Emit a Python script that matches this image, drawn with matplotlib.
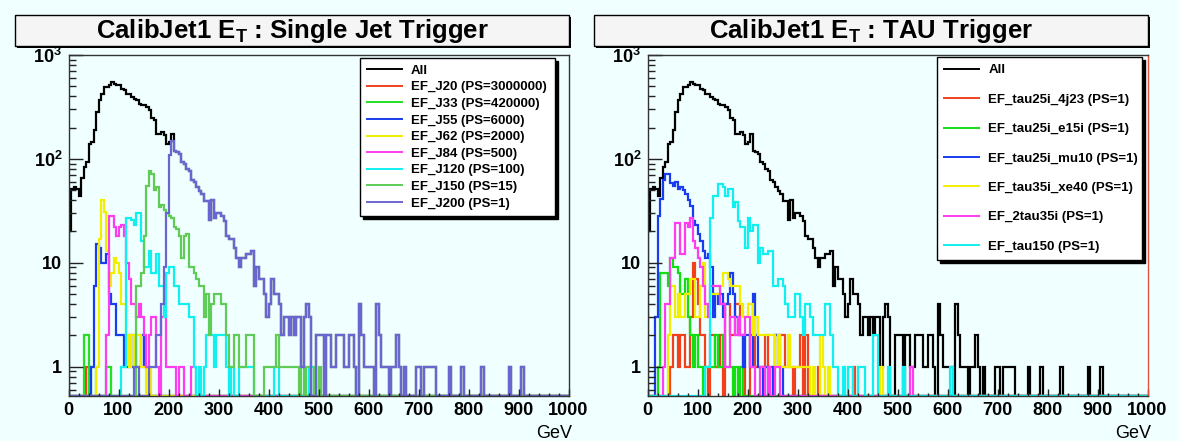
import numpy as np
import matplotlib
matplotlib.use("Agg")
import matplotlib.pyplot as plt
from matplotlib.patches import Rectangle
from matplotlib.lines import Line2D
from matplotlib.ticker import FixedLocator, MultipleLocator, NullFormatter, FixedFormatter, LogLocator

plt.rcParams['font.family'] = ['Liberation Sans', 'DejaVu Sans']
plt.rcParams['mathtext.fontset'] = 'custom'
plt.rcParams['mathtext.rm'] = 'Liberation Sans:bold'
plt.rcParams['mathtext.it'] = 'Liberation Sans:bold'
plt.rcParams['mathtext.bf'] = 'Liberation Sans:bold'

# ---------------- data (counts per 5 GeV bin, 0..1000 GeV) ----------------
bin_edges_gev = list(range(0, 1005, 5))

all_events = [
    20, 51, 53, 51, 44, 66, 83, 93, 139, 145,
    188, 282, 366, 425, 490, 490, 510, 550, 530, 510,
    510, 470, 460, 425, 425, 395, 380, 366, 340, 330,
    330, 315, 295, 245, 235, 175, 175, 180, 168, 139,
    145, 175, 120, 116, 111, 93, 89, 80, 77, 62,
    60, 53, 49, 46, 39, 39, 26, 40, 27, 30,
    30, 28, 25, 18, 17, 17, 14, 11, 9, 11,
    11, 12, 12, 13, 6, 9, 7, 7, 5, 3,
    4, 7, 5, 5, 4, 2, 3, 3, 2, 3,
    2, 3, 3, 1, 3, 4, 3, 0, 0, 2,
    2, 2, 0, 2, 2, 1, 1, 2, 2, 2,
    1, 1, 2, 2, 1, 0, 4, 2, 1, 1,
    1, 1, 0, 4, 2, 1, 1, 1, 0, 1,
    1, 2, 1, 0, 1, 0, 0, 0, 0, 1,
    1, 0, 1, 1, 1, 1, 1, 0, 0, 0,
    0, 0, 1, 0, 0, 0, 0, 1, 0, 0,
    0, 0, 0, 0, 0, 1, 0, 0, 0, 0,
    0, 0, 0, 0, 0, 0, 1, 0, 0, 0,
    0, 1]

# --- single jet triggers (left) ---
ef_j20 = [0, 0, 0, 0, 0, 0, 0, 1]
ef_j33 = [0, 0, 0, 0, 0, 0, 2, 2, 0, 1,
          1, 0, 0, 0, 0, 1, 1]
ef_j55 = [0, 0, 0, 0, 0, 0, 0, 0, 0, 1,
          6, 15, 14, 10, 10, 12, 5, 4, 4, 2,
          2, 2, 1, 1, 2, 1, 2, 1, 1, 2,
          1, 1]
ef_j62 = [0, 0, 0, 0, 0, 0, 0, 0, 0, 0,
          0, 1, 17, 40, 31, 13, 6, 8, 11, 10,
          8, 4, 4, 2, 1, 2, 1, 2, 2, 1,
          1, 0, 1]
ef_j84 = [0, 0, 0, 0, 0, 0, 0, 0, 0, 0,
          0, 0, 0, 0, 0, 2, 28, 28, 22, 18,
          22, 23, 18, 10, 7, 4, 4, 3, 4, 3,
          2, 1, 2, 3, 3, 1, 0, 3, 3, 1,
          1, 1, 1, 0, 1, 1, 0, 0, 0, 1,
          1]
ef_j120 = [0, 0, 0, 0, 0, 0, 0, 0, 0, 0,
           0, 0, 0, 0, 0, 0, 0, 0, 0, 0,
           0, 1, 1, 27, 27, 26, 23, 30, 30, 16,
           9, 9, 13, 8, 8, 12, 6, 6, 3, 8,
           9, 9, 6, 6, 4, 4, 4, 4, 3, 3,
           1, 0, 1, 0, 1, 2, 2, 2, 1, 2,
           2, 2, 2, 1, 0, 1, 0, 0, 1, 1,
           1, 1, 1, 1, 0, 0, 0, 0, 0, 0,
           0, 0, 1, 1, 0, 0, 0, 0, 0, 0,
           0, 0, 0, 0, 0, 0, 1, 1]
ef_j150 = [0, 0, 0, 0, 0, 0, 0, 0, 0, 0,
           0, 0, 0, 0, 0, 0, 0, 0, 0, 0,
           0, 0, 0, 0, 0, 0, 0, 6, 6, 8,
           18, 55, 77, 72, 50, 53, 34, 36, 32, 30,
           28, 27, 22, 21, 18, 11, 18, 19, 9, 9,
           8, 7, 6, 6, 3, 5, 2, 4, 5, 5,
           5, 4, 4, 2, 1, 1, 2, 2, 1, 1,
           1, 2, 2, 2, 0, 0, 0, 0, 1, 1,
           1, 1, 1, 2, 1, 1, 1, 1, 1, 1,
           1, 1, 0, 1, 0, 1, 1, 0, 1, 0,
           1, 0, 0, 0, 0, 0, 0, 0, 0, 0,
           0, 0, 0, 0, 0, 1]
ef_j200 = [0, 0, 0, 0, 0, 0, 0, 0, 0, 0,
           0, 0, 0, 0, 0, 0, 0, 0, 0, 0,
           0, 0, 0, 0, 0, 0, 1, 1, 0, 0,
           0, 0, 1, 1, 1, 2, 2, 4, 9, 30,
           110, 150, 120, 116, 111, 93, 89, 80, 77, 62,
           60, 53, 49, 46, 39, 39, 26, 40, 27, 30,
           30, 28, 25, 18, 17, 17, 14, 11, 9, 11,
           11, 12, 12, 13, 6, 9, 7, 7, 5, 3,
           4, 7, 5, 5, 4, 2, 3, 3, 2, 3,
           2, 3, 3, 1, 3, 4, 3, 0, 0, 2,
           2, 2, 0, 2, 2, 1, 1, 2, 2, 2,
           1, 1, 2, 2, 1, 0, 4, 2, 1, 1,
           1, 1, 0, 4, 2, 1, 1, 1, 0, 1,
           1, 2, 1, 0, 1, 0, 0, 0, 0, 1,
           1, 0, 1, 1, 1, 1, 1, 0, 0, 0,
           0, 0, 1, 0, 0, 0, 0, 1, 0, 0,
           0, 0, 0, 0, 0, 1, 0, 0, 0, 0,
           0, 0, 0, 0, 0, 0, 1, 0, 0, 0,
           0, 1]

# --- tau triggers (right) ---
ef_tau25i_4j23 = [0, 0, 0, 0, 0, 0, 0, 0, 0, 1,
                  2, 2, 1, 2, 2, 1, 1, 3, 10, 7,
                  4, 2, 2, 1, 0, 2, 2, 1, 1, 2,
                  0, 4, 4, 2, 2, 4, 4, 2, 1, 0,
                  0, 2, 2, 1, 1, 1, 1, 2, 1, 1,
                  1, 2, 2, 2, 2, 1, 1, 1, 0, 1,
                  1, 2, 0, 2, 0, 0, 0, 0, 1, 0,
                  0, 0, 0, 0, 0, 0, 0, 0, 0, 0,
                  0, 0, 1]
ef_tau25i_e15i = [0, 0, 0, 0, 1, 8, 8, 8, 6, 11,
                  9, 9, 8, 5, 5, 7, 3, 2, 1, 2,
                  1, 1, 0, 1, 1, 1, 1, 2, 1, 1,
                  2, 1, 1, 1, 0, 1, 0, 1]
ef_tau25i_mu10 = [0, 0, 0, 3, 28, 41, 62, 71, 72, 58,
                  55, 60, 51, 53, 50, 46, 40, 35, 25, 23,
                  19, 16, 13, 11, 12, 9, 3, 5, 4, 5,
                  3, 4, 5, 8, 5, 3, 2, 2, 1, 2,
                  2, 1, 5, 2, 1, 1, 0, 1, 1, 0,
                  1, 2, 2, 1]
ef_tau35i_xe40 = [0, 0, 0, 0, 0, 0, 0, 0, 2, 6,
                  6, 3, 5, 3, 3, 5, 5, 7, 7, 3,
                  3, 6, 10, 3, 3, 5, 5, 5, 5, 6,
                  8, 8, 7, 6, 6, 6, 6, 4, 3, 3,
                  4, 4, 2, 3, 2, 2, 2, 2, 2, 2,
                  2, 1, 2, 1, 1, 1, 2, 1, 1, 1,
                  1, 1, 1, 1, 1, 0, 1, 0, 0, 2,
                  1, 0, 1, 0, 0, 0, 0, 0, 0, 0,
                  0, 0, 0, 0, 0, 0, 0, 0, 0, 0,
                  0, 0, 0, 1]
ef_2tau35i = [0, 0, 0, 0, 0, 0, 1, 4, 4, 11,
              11, 24, 24, 12, 12, 24, 22, 27, 16, 14,
              11, 9, 6, 4, 3, 6, 6, 6, 6, 4,
              4, 1, 1, 3, 3, 2, 3, 2, 2, 3,
              3, 1, 1, 0, 0, 1, 1, 0, 1, 0,
              0, 1, 1, 0, 0, 0, 0, 0, 0, 0,
              0, 0, 0, 0, 0, 0, 0, 0, 0, 0,
              0, 0, 0, 0, 0, 0, 0, 0, 0, 0,
              0, 0, 0, 0, 0, 0, 0, 0, 0, 0,
              0, 0, 0, 0, 0, 0, 0, 0, 0, 0,
              0, 0, 0, 0, 0, 1]
ef_tau150 = [0, 0, 0, 0, 0, 0, 0, 0, 0, 0,
             0, 0, 0, 0, 0, 0, 0, 0, 0, 0,
             0, 0, 0, 1, 1, 27, 44, 44, 57, 57,
             53, 44, 51, 51, 34, 38, 25, 22, 22, 14,
             27, 20, 23, 23, 10, 14, 12, 12, 13, 13,
             6, 6, 7, 7, 6, 4, 3, 3, 3, 5,
             5, 3, 2, 4, 4, 3, 2, 2, 2, 2,
             2, 4, 4, 2, 1, 1, 0, 0, 1, 0,
             1, 1, 0, 0, 1, 1, 1, 0, 0, 0,
             2, 2, 0, 0, 0, 0, 1, 0, 0, 0,
             0, 0, 1, 0, 0, 0, 0, 0, 0, 0,
             0, 0, 0, 0, 0, 0, 0, 0, 0, 0,
             0, 1]

left_labels = ["All", "EF_J20 (PS=3000000)", "EF_J33 (PS=420000)", "EF_J55 (PS=6000)",
               "EF_J62 (PS=2000)", "EF_J84 (PS=500)", "EF_J120 (PS=100)",
               "EF_J150 (PS=15)", "EF_J200 (PS=1)"]
right_labels = ["All", "EF_tau25i_4j23 (PS=1)", "EF_tau25i_e15i (PS=1)",
                "EF_tau25i_mu10 (PS=1)", "EF_tau35i_xe40 (PS=1)",
                "EF_2tau35i (PS=1)", "EF_tau150 (PS=1)"]
x_tick_values = [0, 100, 200, 300, 400, 500, 600, 700, 800, 900, 1000]
x_tick_labels = ["0", "100", "200", "300", "400", "500", "600", "700", "800", "900", "1000"]
y_tick_values = [1, 10, 100, 1000]
y_tick_labels = ["1", "10", "10$^{2}$", "10$^{3}$"]

# ---------------- style ----------------
W, H = 1179, 441
BG = '#f0ffff'
YMIN, YMAX = 0.526, 1000.0
left_colors = ['black', '#f2401c', '#22e022', '#1a3cf0', '#f2ee00', '#ff3cf0',
               '#10f0f0', '#5fcc58', '#6a66d0']
right_colors = ['black', '#f2401c', '#10e010', '#1a3cf0', '#f2ee00', '#ff3cf0', '#10f0f0']

fig = plt.figure(figsize=(W / 100, H / 100), dpi=100, facecolor=BG)


def fx(px):
    return px / W


def fy(py):
    return 1 - py / H


def prep(v):
    a = np.zeros(len(bin_edges_gev) - 1)
    a[:len(v)] = v
    return np.where(a > 0, a, YMIN)


def make_axes(left_px, series, colors, labels, title, leg_box, leg_spacing, leg_pad):
    ax = fig.add_axes([fx(left_px), fy(395.5), fx(500), (395.5 - 55) / H], facecolor=BG)
    ax.set_yscale('log')
    for vals, col in zip(series, colors):
        ax.stairs(prep(vals), bin_edges_gev, baseline=YMIN, color=col, lw=1.6)
    ax.set_xlim(0, 1000)
    ax.set_ylim(YMIN, YMAX)
    ax.xaxis.set_major_locator(FixedLocator(x_tick_values))
    ax.xaxis.set_major_formatter(FixedFormatter(x_tick_labels))
    ax.xaxis.set_minor_locator(MultipleLocator(20))
    ax.yaxis.set_major_locator(FixedLocator(y_tick_values))
    ax.yaxis.set_major_formatter(FixedFormatter(y_tick_labels))
    ax.yaxis.set_minor_locator(LogLocator(base=10, subs=np.arange(2, 10)))
    ax.yaxis.set_minor_formatter(NullFormatter())
    ax.tick_params(axis='both', which='both', direction='in', top=False, right=False,
                   color='#222222', width=1.0)
    ax.tick_params(axis='x', which='major', length=5, pad=4.5, labelsize=13)
    ax.tick_params(axis='x', which='minor', length=2.5)
    ax.tick_params(axis='y', which='major', length=10, pad=4.5, labelsize=13)
    ax.tick_params(axis='y', which='minor', length=5)
    for lab in ax.get_xticklabels() + ax.get_yticklabels():
        lab.set_fontweight('bold')
    for sp in ax.spines.values():
        sp.set_color('#333333')
        sp.set_linewidth(1.0)

    handles = [Line2D([], [], color=c, lw=1.4) for c in colors]
    x0, y0, x1, y1 = leg_box
    leg = ax.legend(handles, labels, loc='upper left',
                    bbox_to_anchor=(fx(x0), fy(y1), fx(x1 - x0), (y1 - y0) / H),
                    bbox_transform=fig.transFigure, mode='expand',
                    prop={'weight': 'bold', 'size': 9.5}, fancybox=False,
                    shadow={'ox': 2.3, 'oy': -2.3, 'color': 'black', 'alpha': 1.0},
                    framealpha=1, facecolor='white', edgecolor='black',
                    borderpad=leg_pad, labelspacing=leg_spacing, handlelength=2.65,
                    handletextpad=0.7, borderaxespad=0)
    leg.get_frame().set_linewidth(1.0)

    # title box with shadow
    tx0, tx1 = left_px - 53.5, left_px + 500.5
    fig.patches.append(Rectangle((fx(tx0 + 2), fy(48)), fx(tx1 - tx0), 31 / H,
                                 transform=fig.transFigure, facecolor='black',
                                 edgecolor='none', zorder=1))
    fig.patches.append(Rectangle((fx(tx0), fy(46)), fx(tx1 - tx0), 31 / H,
                                 transform=fig.transFigure, facecolor='#f5f5f5',
                                 edgecolor='black', lw=1.0, zorder=2))
    fig.text(fx((tx0 + tx1) / 2), fy(31), title, ha='center', va='center',
             fontsize=18.5, fontweight='bold', zorder=3)
    fig.text(fx(left_px + 504), fy(433), "GeV", ha='right', va='center', fontsize=13)
    return ax


axL = make_axes(68.5,
                [all_events, ef_j20, ef_j33, ef_j55, ef_j62, ef_j84, ef_j120, ef_j150, ef_j200],
                left_colors, left_labels,
                "CalibJet1 E$_{\\mathrm{T}}$ : Single Jet Trigger",
                (360, 58, 555, 222), 0.33, 0.5)
axR = make_axes(647.5,
                [all_events, ef_tau25i_4j23, ef_tau25i_e15i, ef_tau25i_mu10,
                 ef_tau35i_xe40, ef_2tau35i, ef_tau150],
                right_colors, right_labels,
                "CalibJet1 E$_{\\mathrm{T}}$ : TAU Trigger",
                (937, 57, 1142, 262), 1.3, 0.55)
axR.spines['right'].set_color('#e8503a')

fig.savefig('out.png', dpi=100, facecolor=BG)
